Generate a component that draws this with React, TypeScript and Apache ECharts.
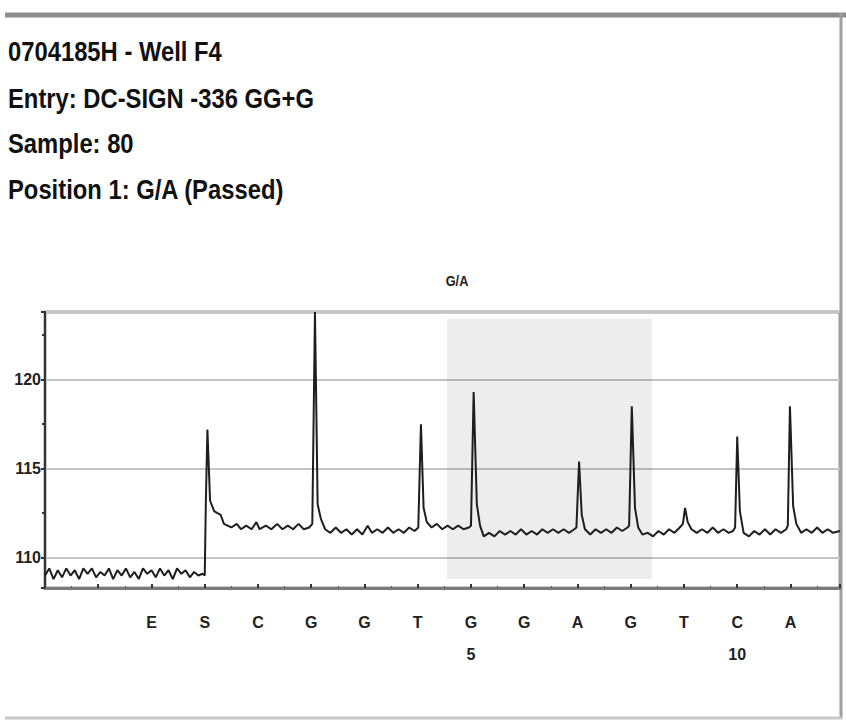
import React, { useEffect, useRef } from 'react';
import * as echarts from 'echarts';

const titleLines = ['0704185H - Well F4', 'Entry: DC-SIGN -336 GG+G', 'Sample: 80', 'Position 1: G/A (Passed)'];
const dispensations = ['E', 'S', 'C', 'G', 'G', 'T', 'G', 'G', 'A', 'G', 'T', 'C', 'A'];
const dispensationNumbers: Record<number, string> = { 6: '5', 11: '10' };
const variantLabel = 'G/A';
const variantRange = [5.55, 9.4];
const yRange = [108.3, 123.8];
const xRange = [-2, 12.93];

const trace: [number, number][] = [
  [-2.0, 109.0], [-1.92, 109.4], [-1.84, 108.8], [-1.76, 109.3], [-1.68, 108.9], [-1.6, 109.4], [-1.52, 109.0],
  [-1.44, 109.3], [-1.36, 108.8], [-1.28, 109.4], [-1.2, 109.1], [-1.12, 109.4], [-1.04, 108.9], [-0.96, 109.2],
  [-0.88, 109.0], [-0.8, 109.4], [-0.72, 108.8], [-0.64, 109.3], [-0.56, 109.0], [-0.48, 109.4], [-0.4, 108.9],
  [-0.32, 109.2], [-0.24, 108.8], [-0.16, 109.4], [-0.08, 109.1], [0.0, 109.3], [0.08, 108.9], [0.16, 109.4],
  [0.24, 109.0], [0.32, 109.3], [0.4, 108.8], [0.48, 109.4], [0.56, 109.1], [0.64, 109.3], [0.72, 108.9],
  [0.8, 109.2], [0.88, 109.0], [0.96, 109.1], [1.0, 109.0],
  [1.02, 113.0], [1.05, 117.2], [1.1, 113.2], [1.18, 112.6], [1.3, 112.4], [1.36, 111.9],
  [1.5, 111.7], [1.6, 111.9], [1.68, 111.6], [1.78, 111.8], [1.88, 111.6], [1.97, 112.0], [2.03, 111.6],
  [2.15, 111.8], [2.25, 111.6], [2.36, 111.9], [2.46, 111.6], [2.56, 111.8], [2.66, 111.6], [2.76, 111.9],
  [2.86, 111.6], [2.96, 111.7],
  [3.02, 111.9], [3.07, 123.8], [3.12, 113.0], [3.18, 112.2], [3.26, 111.6],
  [3.36, 111.4], [3.46, 111.7], [3.56, 111.4], [3.66, 111.6], [3.76, 111.3], [3.86, 111.6], [3.96, 111.3],
  [4.06, 111.8], [4.14, 111.4], [4.24, 111.6], [4.34, 111.4], [4.44, 111.7], [4.54, 111.4], [4.64, 111.6],
  [4.74, 111.4], [4.84, 111.7], [4.94, 111.5], [5.01, 111.7],
  [5.06, 117.5], [5.11, 112.8], [5.17, 112.0], [5.26, 111.7], [5.36, 111.9], [5.46, 111.6], [5.56, 111.8],
  [5.66, 111.6], [5.76, 111.8], [5.86, 111.6], [5.96, 111.7], [6.0, 111.8],
  [6.05, 119.3], [6.11, 113.0], [6.17, 111.8], [6.24, 111.2], [6.34, 111.4], [6.44, 111.2], [6.54, 111.5],
  [6.64, 111.3], [6.74, 111.5], [6.84, 111.3], [6.94, 111.6], [7.04, 111.3], [7.14, 111.5], [7.24, 111.3],
  [7.34, 111.6], [7.44, 111.4], [7.54, 111.6], [7.64, 111.4], [7.74, 111.6], [7.84, 111.4], [7.94, 111.6],
  [7.98, 111.7],
  [8.03, 115.4], [8.08, 112.4], [8.14, 111.6], [8.24, 111.3], [8.34, 111.6], [8.44, 111.4], [8.54, 111.6],
  [8.64, 111.4], [8.74, 111.7], [8.84, 111.5], [8.94, 111.7], [8.97, 111.8],
  [9.02, 118.5], [9.08, 112.8], [9.14, 111.7], [9.22, 111.3], [9.32, 111.4], [9.42, 111.2], [9.52, 111.5],
  [9.62, 111.3], [9.72, 111.6], [9.82, 111.4], [9.92, 111.7], [9.98, 111.9],
  [10.02, 112.8], [10.07, 112.0], [10.14, 111.6], [10.24, 111.4], [10.34, 111.6], [10.44, 111.4], [10.54, 111.7],
  [10.64, 111.4], [10.74, 111.6], [10.84, 111.4], [10.92, 111.5], [10.96, 111.7],
  [11.0, 116.8], [11.05, 112.6], [11.12, 111.4], [11.22, 111.2], [11.32, 111.5], [11.42, 111.3], [11.52, 111.6],
  [11.62, 111.3], [11.72, 111.6], [11.82, 111.4], [11.92, 111.6], [11.95, 111.8],
  [11.99, 118.5], [12.05, 112.9], [12.11, 111.9], [12.2, 111.4], [12.3, 111.6], [12.4, 111.4], [12.5, 111.7],
  [12.6, 111.4], [12.7, 111.6], [12.8, 111.4], [12.93, 111.5],
];

const FONT = "'Liberation Sans', Arial, sans-serif";
const titleY = [51, 98, 143, 189];

export default function App() {
  const ref = useRef<HTMLDivElement>(null);
  useEffect(() => {
    if (!ref.current) return;
    const chart = echarts.init(ref.current, undefined, { renderer: 'svg' });
    chart.setOption({
      animation: false,
      backgroundColor: '#ffffff',
      grid: { left: 45, right: 6, top: 312, bottom: 133, show: true, borderColor: '#9a9a9a', borderWidth: 3, backgroundColor: 'transparent' },
      graphic: [
        { type: 'line', shape: { x1: 5, y1: 15, x2: 846, y2: 15 }, style: { stroke: '#8c8c8c', lineWidth: 5 }, silent: true },
        { type: 'line', shape: { x1: 841, y1: 13, x2: 841, y2: 719 }, style: { stroke: '#a0a0a0', lineWidth: 3 }, silent: true },
        { type: 'line', shape: { x1: 5, y1: 718, x2: 842, y2: 718 }, style: { stroke: '#c8c8c8', lineWidth: 3 }, silent: true },
        ...titleLines.map((t, i) => ({
          type: 'text',
          x: 8,
          y: titleY[i],
          scaleX: 0.85,
          silent: true,
          style: { text: t, fill: '#111', fontSize: 28, fontWeight: 'bold', fontFamily: FONT, verticalAlign: 'middle' },
        })),
        {
          type: 'text', x: 457, y: 281, silent: true, scaleX: 0.85,
          style: { text: variantLabel, fill: '#222', fontSize: 15, fontWeight: 'bold', fontFamily: FONT, align: 'center', verticalAlign: 'middle' },
        },
      ],
      xAxis: {
        type: 'value',
        min: xRange[0],
        max: xRange[1],
        interval: 1,
        axisLine: { show: true, onZero: false, lineStyle: { color: '#7a7a7a', width: 3 } },
        axisTick: { show: true, inside: true, length: 4, lineStyle: { color: '#333', width: 2 } },
        minorTick: { show: true, splitNumber: 2, length: 2, lineStyle: { color: '#555' } },
        splitLine: { show: false },
        axisLabel: {
          showMaxLabel: false,
          margin: 18,
          fontSize: 16,
          lineHeight: 32,
          fontWeight: 'bold',
          fontFamily: FONT,
          color: '#222',
          formatter: (v: number) => {
            const i = Math.round(v);
            if (i < 0 || i >= dispensations.length) return '';
            const n = dispensationNumbers[i];
            return n ? `${dispensations[i]}\n${n}` : dispensations[i];
          },
        },
      },
      yAxis: {
        type: 'value',
        min: yRange[0],
        max: yRange[1],
        splitNumber: 3,
        axisLine: { show: true, onZero: false, lineStyle: { color: '#333', width: 2 } },
        axisTick: { show: true, length: 4, lineStyle: { color: '#333', width: 2 } },
        minorTick: { show: true, splitNumber: 2, length: 3, lineStyle: { color: '#333', width: 2 } },
        splitLine: { show: true, lineStyle: { color: '#c4c4c4', width: 2 } },
        axisLabel: {
          showMinLabel: false,
          showMaxLabel: false,
          margin: 4,
          fontSize: 16,
          fontWeight: 'bold',
          fontFamily: FONT,
          color: '#222',
        },
      },
      series: [
        {
          type: 'line',
          data: trace,
          symbol: 'none',
          smooth: false,
          lineStyle: { color: '#1e1e1e', width: 2 },
          markArea: {
            silent: true,
            itemStyle: { color: 'rgba(0,0,0,0.07)' },
            data: [[{ coord: [variantRange[0], 123.4] }, { coord: [variantRange[1], 108.8] }]],
          },
        },
      ],
    });
    return () => chart.dispose();
  }, []);
  return <div ref={ref} style={{ position: 'fixed', left: 0, top: 0, width: 846, height: 721, background: '#fff' }} />;
}
